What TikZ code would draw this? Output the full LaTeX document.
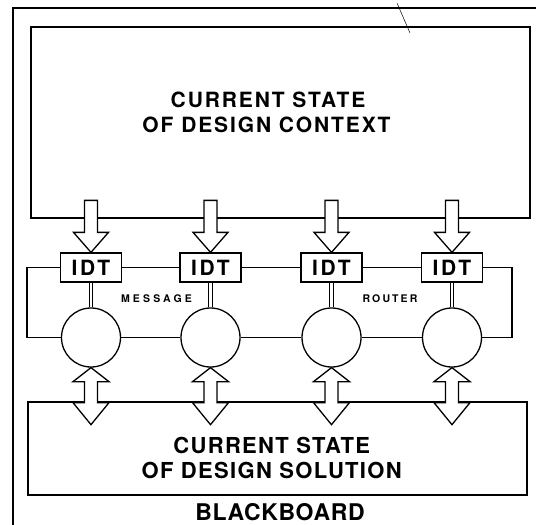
\documentclass[tikz,border=0pt]{standalone}
\usepackage{fontspec}
\setmainfont{TeX Gyre Heros}
\usetikzlibrary{calc}
\begin{document}
\begin{tikzpicture}[x=1pt,y=-1pt,
  frame/.style={line width=1.3pt},
  bigbox/.style={draw, line width=1.7pt, inner sep=0pt, minimum width=499pt},
  idtbox/.style={draw, line width=1.3pt, fill=white, inner sep=0pt, minimum width=61pt, minimum height=29pt,
    font=\bfseries\fontsize{21}{24}\selectfont\addfontfeature{LetterSpace=12}},
  proc/.style={draw, circle, line width=1.3pt, minimum size=59pt, inner sep=0pt},
  bus/.style={line width=1.3pt},
  dbl/.style={double, double distance=2.6pt, line width=0.9pt},
  blk/.style={draw, fill=white, line width=1.3pt, line join=miter},
  toptext/.style={anchor=base, inner sep=0pt, font=\bfseries\fontsize{21}{24}\selectfont\addfontfeature{LetterSpace=9}},
  bottext/.style={anchor=base, inner sep=0pt, font=\bfseries\fontsize{22}{26}\selectfont\addfontfeature{LetterSpace=6}},
  bbtext/.style={anchor=base, inner sep=0pt, font=\bfseries\fontsize{23}{26}\selectfont\addfontfeature{LetterSpace=3}},
  smalltext/.style={anchor=base, inner sep=0pt, font=\bfseries\fontsize{10.5}{12}\selectfont\addfontfeature{LetterSpace=30}}
]
\useasboundingbox (0,0) rectangle (536,525);
% outer frame (open to the right and bottom)
\draw[frame] (13,525) -- (13,8) -- (536,8);
\draw[line width=0.5pt] (397,3) -- (410,33);
% boxes
\node[bigbox, minimum height=191pt] (ctx) at (280.5,122.5) {};
\node[bigbox, minimum height=93pt] (sol) at (277.5,448.5) {};
% texts
\node[toptext] (t1) at (268,107.7) {CURRENT STATE};
\node[toptext] (t2) at (266.5,132.7) {OF DESIGN CONTEXT};
\node[bottext] (t3) at (271.7,453) {CURRENT STATE};
\node[bottext] (t4) at (271.7,478) {OF DESIGN SOLUTION};
\node[bbtext] (t5) at (280,520) {BLACKBOARD};
% IDTs and processors
\foreach \i/\x in {1/91,2/210.5,3/331.5,4/452}{
  \node[idtbox] (i\i) at (\x,267.5) {IDT};
  \node[proc] (c\i) at (\x,337.5) {};
  \draw[dbl] (i\i.south) -- (c\i.north);
}
\node[smalltext] (msg) at (156.5,302) {MESSAGE};
\node[smalltext, font=\bfseries\fontsize{10.5}{12}\selectfont\addfontfeature{LetterSpace=20}] (rtr) at (390,302) {ROUTER};
% message router ring
\coordinate (lt) at (27,267.5);
\coordinate (rt) at (512,267.5);
\draw[bus] (i1) -- (i2) -- (i3) -- (i4);
\draw[bus] (c1) -- (c2) -- (c3) -- (c4);
\draw[bus] (i1.west) -- (lt) |- (c1.west);
\draw[bus] (i4.east) -- (rt) |- (c4.east);
% block arrows from context to IDTs
\foreach \i in {1,2,3,4}{
  \path (i\i.north) coordinate (tp);
  \draw[blk] ($(tp)+(-6.5,-52)$) -- ($(tp)+(-6.5,-20)$) -- ($(tp)+(-17.5,-20)$) -- (tp)
     -- ($(tp)+(17.5,-20)$) -- ($(tp)+(6.5,-20)$) -- ($(tp)+(6.5,-52)$) -- cycle;
}
% double block arrows processors <-> solution
\foreach \i in {1,2,3,4}{
  \path (c\i.south) coordinate (bp);
  \draw[blk] (bp) -- ($(bp)+(18,14)$) -- ($(bp)+(6.5,14)$) -- ($(bp)+(6.5,35)$) -- ($(bp)+(18,35)$)
     -- ($(bp)+(0,57)$) -- ($(bp)+(-18,35)$) -- ($(bp)+(-6.5,35)$) -- ($(bp)+(-6.5,14)$) -- ($(bp)+(-18,14)$) -- cycle;
}
\end{tikzpicture}
\end{document}
